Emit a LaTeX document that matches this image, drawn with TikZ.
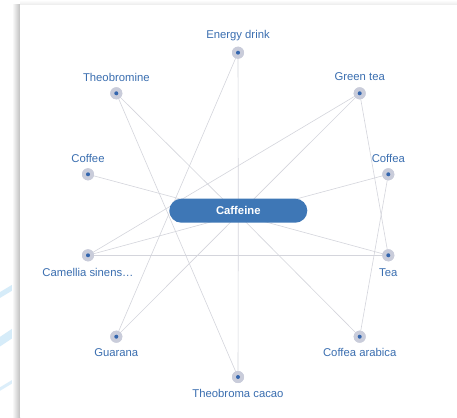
\documentclass[tikz,border=0pt]{standalone}
\usepackage{fontspec}
\setmainfont{Liberation Sans}
\usetikzlibrary{shapes.misc}
\definecolor{lbl}{HTML}{3A6EB0}
\definecolor{pill}{HTML}{3E77B6}
\definecolor{edgec}{HTML}{D4D5DC}
\definecolor{ring}{HTML}{C9CCDA}
\definecolor{dotc}{HTML}{3466AE}
\definecolor{streak}{HTML}{C6E4F7}
\tikzset{
  vert/.style={circle,fill=ring,minimum size=12pt,inner sep=0pt},
  lab/.style={text=lbl,font=\fontsize{11.3}{13}\selectfont,inner sep=0pt},
  link/.style={draw=edgec,line width=0.6pt},
  hubbox/.style={rounded rectangle,fill=pill,text=white,font=\fontsize{11.3}{13}\selectfont\bfseries,minimum width=138pt,minimum height=24pt,inner sep=0pt}
}
\begin{document}
\begin{tikzpicture}[x=1pt,y=-1pt]
\useasboundingbox (0,0) rectangle (457,417);
\fill[white] (0,0) rectangle (457,417);
\begin{scope}
\clip (0,0) rectangle (20,417);
\draw[streak,line width=5pt,opacity=0.7] (-5,298) -- (25,280);
\draw[streak,line width=8pt,opacity=0.7] (-5,345) -- (25,325);
\draw[streak,line width=3pt,opacity=0.6] (-5,392) -- (25,374);
\end{scope}
% card shadow
\shade[left color=white,right color=black!25] (12,5) rectangle (20,417);
\shade[top color=white,bottom color=black!8] (20,0) rectangle (457,5);
\fill[white] (20,5) rectangle (457,417);
% nodes
\coordinate (hub) at (238.3,214.5);
\node[vert] (energy) at (238,52.7) {};
\node[vert] (theobromine) at (116.3,93.3) {};
\node[vert] (greentea) at (359.7,93.3) {};
\node[vert] (coffee) at (88,174.3) {};
\node[vert] (coffea) at (388.3,174.3) {};
\node[vert] (camellia) at (88,255.3) {};
\node[vert] (tea) at (388.3,255.3) {};
\node[vert] (guarana) at (116.3,336.7) {};
\node[vert] (arabica) at (359.7,336.7) {};
\node[vert] (cacao) at (238,377) {};
% edges
\foreach \n in {energy,theobromine,greentea,coffee,coffea,camellia,tea,guarana,arabica,cacao}
  \draw[link] (hub) -- (\n.center);
\draw[link] (energy.center) -- (guarana.center);
\draw[link] (theobromine.center) -- (cacao.center);
\draw[link] (greentea.center) -- (camellia.center);
\draw[link] (greentea.center) -- (tea.center);
\draw[link] (camellia.center) -- (tea.center);
\draw[link] (coffea.center) -- (arabica.center);
% dots on top
\foreach \n in {energy,theobromine,greentea,coffee,coffea,camellia,tea,guarana,arabica,cacao}{
  \fill[ring] (\n.center) circle (6pt);
  \fill[dotc] (\n.center) circle (2pt);
}
% labels
\node[lab] (lenergy) at (238,36) {Energy drink};
\node[lab] (ltheobromine) at (116.3,77) {Theobromine};
\node[lab] (lgreentea) at (359.7,77) {Green tea};
\node[lab] (lcoffee) at (88,158.3) {Coffee};
\node[lab] (lcoffea) at (388.3,158.3) {Coffea};
\node[lab] (lcamellia) at (88,272.3) {Camellia sinens…};
\node[lab] (ltea) at (388.3,272.3) {Tea};
\node[lab] (lguarana) at (116.3,352.7) {Guarana};
\node[lab] (larabica) at (359.7,352.7) {Coffea arabica};
\node[lab] (lcacao) at (238,393.7) {Theobroma cacao};
% center
\node[hubbox] (caffeine) at (238.3,210.7) {Caffeine};
\end{tikzpicture}
\end{document}
